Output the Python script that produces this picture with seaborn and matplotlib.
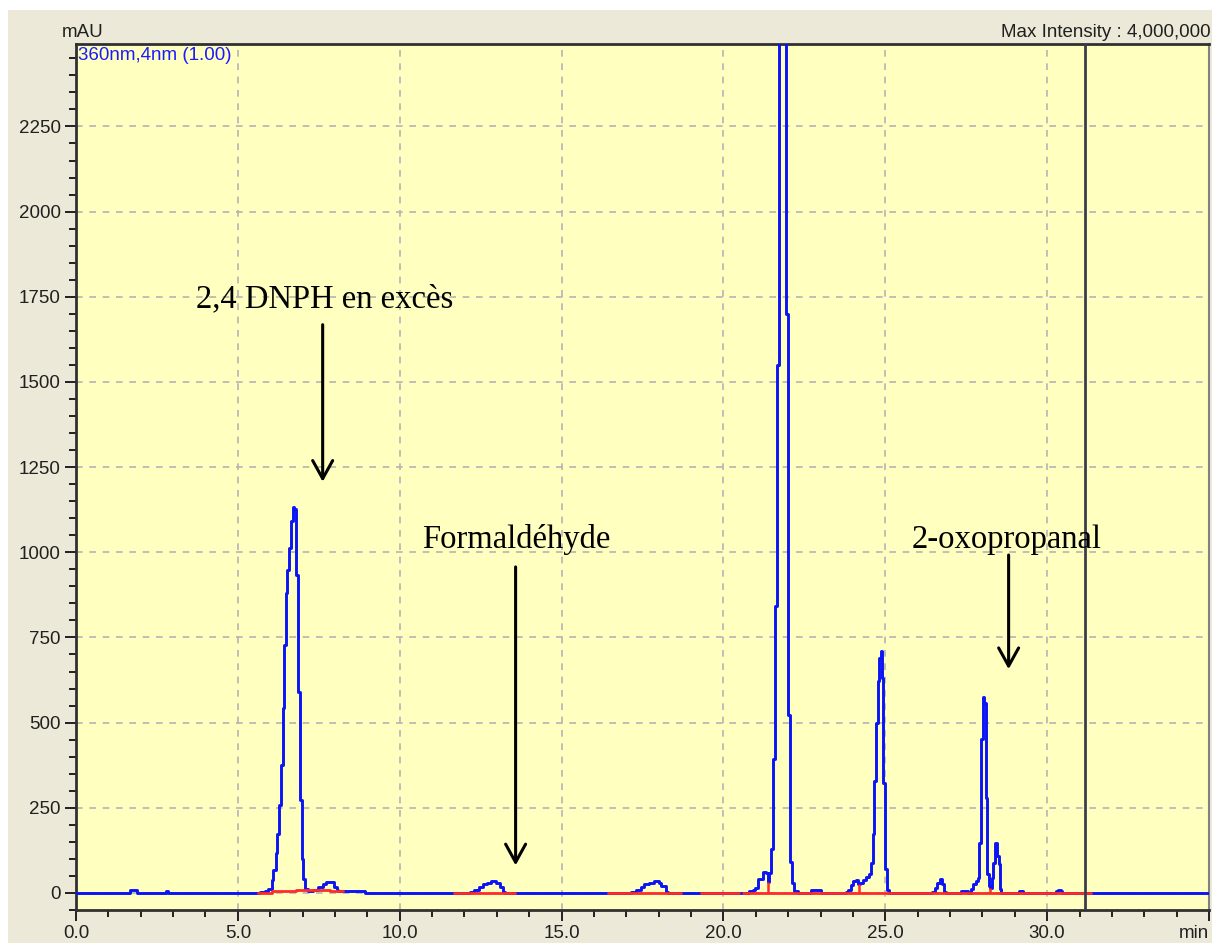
import numpy as np
import pandas as pd
import seaborn as sns
import matplotlib.pyplot as plt
from matplotlib.patches import Rectangle
from matplotlib.ticker import MultipleLocator

# signal trace (min, mAU)
time_min = [0.0, 1.67, 1.87, 2.78, 2.83, 5.68, 5.83, 5.94, 6.04, 6.09, 6.17, 6.21, 6.28, 6.33,
            6.38, 6.43, 6.48, 6.53, 6.58, 6.64, 6.69, 6.74, 6.79, 6.86, 6.91, 6.97, 7.02, 7.07,
            7.17, 7.32, 7.48, 7.63, 7.72, 7.97, 8.05, 8.10, 8.30, 8.94,
            12.16, 12.31, 12.45, 12.57, 12.70, 12.83, 12.98, 13.09, 13.19, 13.25,
            17.15, 17.30, 17.45, 17.56, 17.70, 17.87, 18.00, 18.08, 18.23, 18.30,
            20.80, 20.90, 20.96, 21.06, 21.21, 21.32, 21.37, 21.42, 21.47, 21.53, 21.60, 21.66,
            21.71, 21.94, 22.01, 22.06, 22.12, 22.19, 22.30, 22.70, 23.00,
            23.79, 23.84, 23.94, 24.01, 24.10, 24.15, 24.22, 24.30, 24.40, 24.51, 24.56, 24.61,
            24.66, 24.71, 24.76, 24.81, 24.87, 24.90, 24.94, 24.99, 25.05, 25.10,
            26.44, 26.54, 26.61, 26.69, 26.75, 26.82, 26.87, 27.34, 27.57, 27.64, 27.72, 27.80,
            27.85, 27.90, 27.96, 28.01, 28.06, 28.11, 28.14, 28.19, 28.24, 28.29, 28.34, 28.40,
            28.45, 28.50, 28.54, 28.59, 29.12, 29.26, 30.27, 30.32, 30.42, 30.47, 35.0]
signal_mau = [0, 8, 0, 6, 0, 2, 5, 12, 37, 67, 116, 174, 258, 375,
              542, 728, 880, 948, 1012, 1093, 1134, 1128, 933, 590, 272, 101, 42, 12,
              6, 10, 18, 26, 31, 18, 8, 5, 7, 0,
              3, 10, 18, 25, 30, 34, 30, 18, 2, 0,
              3, 10, 18, 25, 30, 34, 28, 20, 2, 0,
              5, 10, 16, 42, 62, 59, 32, 60, 128, 394, 842, 1551,
              3400, 1698, 522, 90, 28, 5, 0, 9, 0,
              3, 10, 23, 35, 37, 27, 28, 37, 47, 57, 89, 174,
              329, 500, 623, 691, 710, 632, 324, 69, 10, 0,
              3, 16, 30, 40, 25, 3, 0, 6, 0, 11, 25, 35,
              45, 148, 451, 574, 559, 279, 55, 21, 16, 45, 89, 148,
              108, 84, 11, 0, 5, 0, 6, 10, 6, 0, 0]

# integration baselines (red)
base_seg = [1, 1, 1, 1, 1, 2, 2, 3, 3, 4, 4, 5, 5]
base_time = [5.63, 6.04, 6.81, 7.84, 8.25, 11.67, 13.55, 16.42, 18.69, 19.31, 20.49, 20.60, 31.35]
base_mau = [0, 5, 10, 5, 5, 0, 0, 0, 0, 0, 0, 0, 0]

# drop lines between merged peaks
drop_time = [21.37, 24.20, 28.24]
drop_top = [32, 27, 16]

# annotations
labels = ["2,4 DNPH en excès", "Formaldéhyde", "2-oxopropanal"]
label_x = [7.69, 13.61, 28.75]
label_y = [1720, 1012, 1012]
arrow_x = [7.62, 13.58, 28.81]
arrow_start = [1668, 957, 992]
arrow_tip = [1207, 81, 657]

xtick_pos = [0, 5, 10, 15, 20, 25, 30, 35]
xtick_lab = ["0.0", "5.0", "10.0", "15.0", "20.0", "25.0", "30.0", "min"]
ytick_pos = [0, 250, 500, 750, 1000, 1250, 1500, 1750, 2000, 2250]
marker_time = 31.17

sig = pd.DataFrame({"t": time_min, "v": signal_mau})
base = pd.DataFrame({"seg": base_seg, "t": base_time, "v": base_mau})

sns.set_style("ticks")
plt.rcParams['font.family'] = ['Liberation Sans', 'DejaVu Sans']

fig = plt.figure(figsize=(12.12, 9.43), dpi=100)
fig.patch.set_facecolor("white")
fig.add_artist(Rectangle((8 / 1212, 0), 1, (943 - 10) / 943, transform=fig.transFigure,
                         facecolor="#ECE9D8", edgecolor="none", zorder=-10))
ax = fig.add_axes([76 / 1212, 33 / 943, 1133 / 1212, 866 / 943])
ax.set_facecolor("#FFFFC0")

ax.set_xlim(0, 35)
ax.set_ylim(-50, 2492)

for xv in [5, 10, 15, 20, 25, 30]:
    ax.axvline(xv, color="#B4B4B4", lw=1.2, ls=(0, (4, 4)), zorder=0)
for yv in ytick_pos:
    ax.axhline(yv, color="#B4B4B4", lw=1.2, ls=(0, (4, 4)), zorder=0)

sns.lineplot(data=sig, x="t", y="v", ax=ax, color="#0A14F5", lw=2.1, sort=False,
             estimator=None, drawstyle="steps-post", legend=False, zorder=3)
sns.lineplot(data=base, x="t", y="v", units="seg", estimator=None, ax=ax, color="#FF2A2A",
             lw=2.0, sort=False, drawstyle="steps-post", legend=False, zorder=4)
ax.vlines(drop_time, 0, drop_top, color="#FF2A2A", lw=1.8, zorder=4)

ax.axvline(marker_time, color="#3C3C4C", lw=2, zorder=5)

for lab, lx, ly, axx, a0, a1 in zip(labels, label_x, label_y, arrow_x, arrow_start, arrow_tip):
    ax.text(lx, ly, lab, ha="center", va="baseline", fontsize=23.5,
            family=["Liberation Serif", "DejaVu Serif"], color="black", zorder=6)
    ax.annotate("", xy=(axx, a1), xytext=(axx, a0),
                arrowprops=dict(arrowstyle="->,head_length=0.65,head_width=0.36", lw=2.2,
                                color="black", shrinkA=0, shrinkB=0, mutation_scale=20),
                zorder=6)

ax.set_xticks(xtick_pos)
ax.set_xticklabels(xtick_lab)
ax.xaxis.set_minor_locator(MultipleLocator(1))
ax.set_yticks(ytick_pos)
ax.set_yticklabels([str(v) for v in ytick_pos])
ax.yaxis.set_minor_locator(MultipleLocator(50))
ax.tick_params(axis="both", which="major", length=8, width=1.4, color="#202020",
               labelsize=13.5, labelcolor="#202020", pad=3)
ax.tick_params(axis="both", which="minor", length=5, width=1.4, color="#202020")
ax.get_xticklabels()[-1].set_horizontalalignment("right")

for side in ["left", "top", "bottom"]:
    ax.spines[side].set_color("#303030")
    ax.spines[side].set_linewidth(2)
ax.spines["right"].set_color("#808080")
ax.spines["right"].set_linewidth(1.5)
ax.spines["right"].set_visible(True)
ax.spines["top"].set_visible(True)

ax.set_xlabel("")
ax.set_ylabel("")

ax.text(-0.0124, 1.004, "mAU", transform=ax.transAxes, ha="left", va="bottom",
        fontsize=13.5, color="#202020")
ax.text(1.001, 1.004, "Max Intensity : 4,000,000", transform=ax.transAxes, ha="right",
        va="bottom", fontsize=13.5, color="#202020")
ax.text(0.002, 0.997, "360nm,4nm (1.00)", transform=ax.transAxes, ha="left", va="top",
        fontsize=13.5, color="#1A1AFF", zorder=6)

fig.savefig("out.png", dpi=100, facecolor=fig.get_facecolor())
